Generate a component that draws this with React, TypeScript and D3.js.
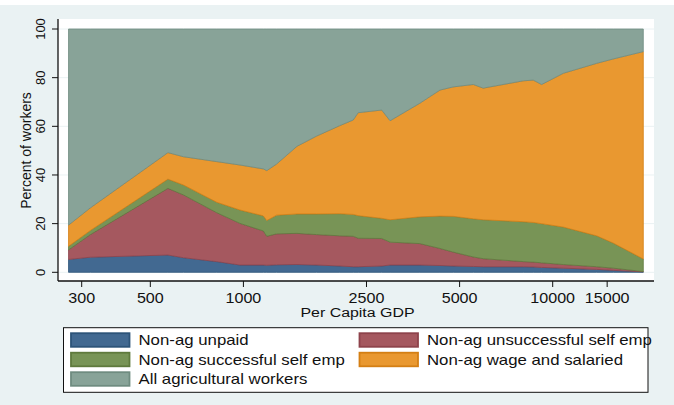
import React from 'react';
import * as d3 from 'd3';

// per capita GDP (x) and shares of workers, stacked bottom to top
const gdp = [272, 320, 570, 640, 820, 975, 1160, 1190, 1280, 1490, 1725, 2050, 2265, 2350,
  2800, 2980, 3720, 4320, 4770, 5540, 5960, 8030, 8650, 9210, 10820, 13880, 15700, 19630];
const unpaid = [5.3, 6.2, 7.1, 6.0, 4.4, 3.0, 3.0, 2.9, 3.1, 3.2, 3.0, 2.6, 2.3, 2.3,
  2.6, 3.0, 3.0, 2.8, 2.6, 2.4, 2.3, 2.3, 2.2, 2.0, 1.7, 1.2, 0.8, 0.2];
const unsuccessful = [3.9, 9.3, 27.4, 25.8, 20.1, 17.1, 14.0, 11.9, 12.7, 12.8, 12.5, 12.4, 12.5, 11.7,
  11.3, 9.4, 8.8, 7.0, 5.7, 3.9, 3.3, 2.1, 2.0, 1.9, 1.5, 1.1, 0.9, 0.1];
const successful = [1.5, 1.7, 3.8, 4.1, 4.3, 5.5, 6.2, 6.5, 7.7, 8.0, 8.5, 9.1, 9.0, 9.3,
  8.3, 9.2, 11.0, 13.3, 14.7, 15.7, 16.0, 16.4, 16.3, 16.1, 15.4, 12.7, 10.3, 5.2];
const wage = [8.7, 9.3, 10.9, 11.6, 16.7, 18.5, 19.3, 20.5, 21.0, 27.8, 32.0, 36.2, 38.8, 42.3,
  44.5, 40.7, 46.7, 51.8, 53.2, 55.2, 54.1, 57.9, 58.5, 57.2, 63.2, 70.9, 75.7, 85.2];
const agri = [80.6, 73.5, 50.8, 52.5, 54.5, 55.9, 57.5, 58.2, 55.5, 48.2, 44.0, 39.7, 37.4, 34.4,
  33.3, 37.7, 30.5, 25.1, 23.8, 22.8, 24.3, 21.3, 21.0, 22.8, 18.2, 14.1, 12.3, 9.3];

const seriesKeys = ['unpaid', 'unsuccessful', 'successful', 'wage', 'agri'];
const seriesLabels = ['Non-ag unpaid', 'Non-ag unsuccessful self emp', 'Non-ag successful self emp',
  'Non-ag wage and salaried', 'All agricultural workers'];
const fills = ['#426991', '#a5585f', '#789456', '#e99830', '#88a398'];
const strokes = ['#2d5479', '#8e434b', '#5f7a3d', '#d47f14', '#6f8c80'];

const xTicks = [300, 500, 1000, 2500, 5000, 10000, 15000];
const yTicks = [0, 20, 40, 60, 80, 100];

const W = 674;
const H = 405;
const FONT = '"Liberation Sans", Arial, Helvetica, sans-serif';

export default function App() {
  const x = d3.scaleLog().domain([300, 10000]).range([81.7, 552.7]);
  const y = d3.scaleLinear().domain([0, 100]).range([272.3, 29]);

  const rows = gdp.map((g, i) => ({
    gdp: g,
    unpaid: unpaid[i],
    unsuccessful: unsuccessful[i],
    successful: successful[i],
    wage: wage[i],
    agri: agri[i],
  }));
  const stacked = d3.stack<any>().keys(seriesKeys)(rows);
  const area = d3.area<any>()
    .x(d => x(d.data.gdp))
    .y0(d => y(d[0]))
    .y1(d => y(Math.min(d[1], 100)));

  const plotL = 58, plotR = 654, plotT = 19, plotB = 281;

  return (
    <svg width={W} height={H} style={{ position: 'absolute', left: 0, top: 0 }} fontFamily={FONT}>
      <rect x={0} y={0} width={W} height={H} fill="#ffffff" />
      <rect x={0} y={5} width={W} height={H - 5} fill="#eaf2f3" />
      <rect x={plotL} y={plotT} width={plotR - plotL} height={plotB - plotT} fill="#ffffff" />

      {yTicks.map(t => (
        <line key={'g' + t} x1={plotL} x2={plotR} y1={y(t)} y2={y(t)} stroke="#eaf2f3" strokeWidth={1} />
      ))}

      {stacked.map((s, i) => (
        <path key={s.key} d={area(s) || ''} fill={fills[i]} stroke={strokes[i]} strokeWidth={0.8} />
      ))}

      {/* axes */}
      <line x1={plotL} x2={plotL} y1={plotT} y2={plotB} stroke="#111" strokeWidth={1.3} />
      <line x1={plotL} x2={plotR} y1={plotB} y2={plotB} stroke="#111" strokeWidth={1.3} />

      {yTicks.map(t => (
        <g key={'y' + t}>
          <line x1={52} x2={plotL} y1={y(t)} y2={y(t)} stroke="#111" strokeWidth={1} />
          <text transform={`translate(45,${y(t)}) rotate(-90)`} textAnchor="middle" fontSize={13} fill="#111">
            {t}
          </text>
        </g>
      ))}
      <text transform={`translate(31,150.5) rotate(-90)`} textAnchor="middle" fontSize={14} fill="#111">
        Percent of workers
      </text>

      {xTicks.map(t => (
        <g key={'x' + t}>
          <line x1={x(t)} x2={x(t)} y1={plotB} y2={287} stroke="#111" strokeWidth={1} />
          <text transform={`translate(${x(t)},302.5) scale(1.15,1)`} textAnchor="middle" fontSize={14} fill="#111">
            {t}
          </text>
        </g>
      ))}
      <text transform={`translate(357.5,317) scale(1.18,1)`} textAnchor="middle" fontSize={13.5} fill="#111">
        Per Capita GDP
      </text>

      {/* legend */}
      <rect x={63.5} y={327.7} width={584.5} height={64.6} fill="#ffffff" stroke="#111" strokeWidth={1} />
      {seriesLabels.map((lab, i) => {
        const col = i % 2;
        const row = Math.floor(i / 2);
        const sx = col === 0 ? 71 : 359.5;
        const sy = 333.2 + row * 19.5;
        return (
          <g key={lab}>
            <rect x={sx} y={sy} width={58.5} height={13.6} fill={fills[i]} stroke={strokes[i]} strokeWidth={1.8} />
            <text transform={`translate(${sx + 67.5},${sy + 12}) scale(1.2,1)`} fontSize={14} fill="#111">
              {lab}
            </text>
          </g>
        );
      })}
    </svg>
  );
}
